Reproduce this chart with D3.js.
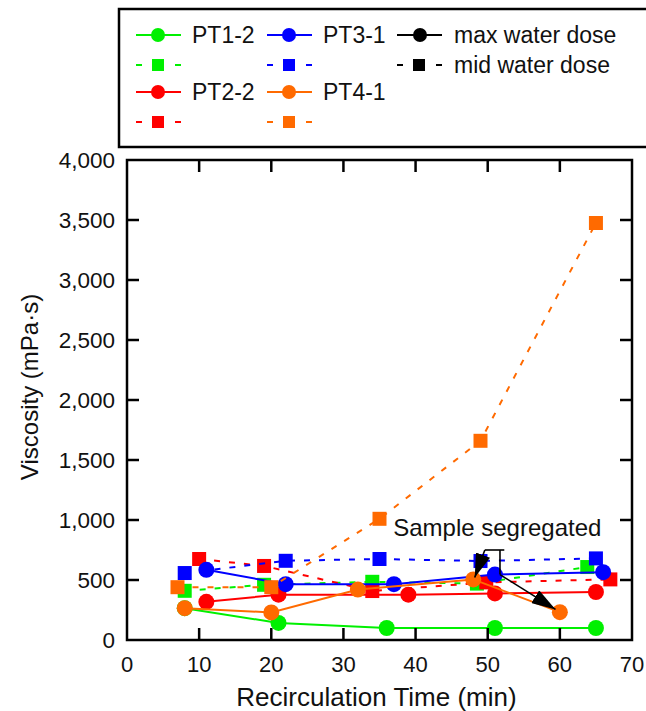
<!DOCTYPE html>
<html>
<head>
<meta charset="utf-8">
<script src="https://cdn.jsdelivr.net/npm/d3@7"></script>
<style>
  body { margin: 0; background: #fff; }
  svg text { font-family: "Liberation Sans", Arial, sans-serif; fill: #111; }
</style>
</head>
<body>
<svg id="chart" width="646" height="711"></svg>
<script>
// recirculation time (min) and viscosity (mPa·s)
const pt12MaxX = [8, 21, 36, 51, 65];
const pt12MaxY = [265, 142, 100, 100, 100];
const pt12MidX = [8, 19, 34, 48.5, 63.8];
const pt12MidY = [410, 460, 485, 470, 608];

const pt22MaxX = [11, 21, 39, 51, 65];
const pt22MaxY = [318, 378, 378, 388, 400];
const pt22MidX = [10, 19, 34, 49.8, 67];
const pt22MidY = [675, 617, 408, 480, 505];

const pt31MaxX = [11, 22, 37, 51, 66];
const pt31MaxY = [585, 465, 465, 545, 565];
const pt31MidX = [8, 22, 35, 49, 65];
const pt31MidY = [558, 660, 675, 658, 680];

const pt41MaxX = [8, 20, 32, 48, 60];
const pt41MaxY = [265, 230, 420, 505, 232];
const pt41MidX = [7, 20, 35, 49, 65];
const pt41MidY = [440, 440, 1010, 1660, 3475];

const series = [
  { name: 'PT1-2', color: '#00f000', maxX: pt12MaxX, maxY: pt12MaxY, midX: pt12MidX, midY: pt12MidY },
  { name: 'PT2-2', color: '#ff0000', maxX: pt22MaxX, maxY: pt22MaxY, midX: pt22MidX, midY: pt22MidY },
  { name: 'PT3-1', color: '#0000ff', maxX: pt31MaxX, maxY: pt31MaxY, midX: pt31MidX, midY: pt31MidY },
  { name: 'PT4-1', color: '#ff6a00', maxX: pt41MaxX, maxY: pt41MaxY, midX: pt41MidX, midY: pt41MidY }
];

const xTicks = [0, 10, 20, 30, 40, 50, 60, 70];
const yTicks = [0, 500, 1000, 1500, 2000, 2500, 3000, 3500, 4000];

const svg = d3.select('#chart');
const pLeft = 127, pRight = 632, pTop = 160, pBottom = 640;

const x = d3.scaleLinear().domain([0, 70]).range([pLeft, pRight]);
const y = d3.scaleLinear().domain([0, 4000]).range([pBottom, pTop]);

const defs = svg.append('defs');
defs.append('marker')
  .attr('id', 'head')
  .attr('viewBox', '0 0 24 15')
  .attr('refX', 24).attr('refY', 7.5)
  .attr('markerWidth', 24).attr('markerHeight', 15)
  .attr('markerUnits', 'userSpaceOnUse')
  .attr('orient', 'auto')
  .append('path').attr('d', 'M0,0 L24,7.5 L0,15 Z').attr('fill', '#000');

// data
const line = d3.line().x(d => x(d[0])).y(d => y(d[1]));
const plot = svg.append('g');
series.forEach(s => {
  const mid = s.midX.map((v, i) => [v, s.midY[i]]);
  const max = s.maxX.map((v, i) => [v, s.maxY[i]]);
  plot.append('path').datum(mid)
    .attr('d', line).attr('fill', 'none')
    .attr('stroke', s.color).attr('stroke-width', 2).attr('stroke-dasharray', '6,9');
  plot.selectAll(null).data(mid).enter().append('rect')
    .attr('x', d => x(d[0]) - 7).attr('y', d => y(d[1]) - 7)
    .attr('width', 14).attr('height', 14).attr('fill', s.color);
  plot.append('path').datum(max)
    .attr('d', line).attr('fill', 'none')
    .attr('stroke', s.color).attr('stroke-width', 2);
  plot.selectAll(null).data(max).enter().append('circle')
    .attr('cx', d => x(d[0])).attr('cy', d => y(d[1]))
    .attr('r', 8).attr('fill', s.color);
});

// frame and inward ticks
const frame = svg.append('g').attr('stroke', '#000').attr('stroke-width', 2.5);
frame.append('rect').attr('x', pLeft).attr('y', pTop)
  .attr('width', pRight - pLeft).attr('height', pBottom - pTop).attr('fill', 'none');
xTicks.slice(1, -1).forEach(t => {
  frame.append('line').attr('x1', x(t)).attr('x2', x(t)).attr('y1', pBottom).attr('y2', pBottom - 12);
  frame.append('line').attr('x1', x(t)).attr('x2', x(t)).attr('y1', pTop).attr('y2', pTop + 12);
});
yTicks.slice(1, -1).forEach(t => {
  frame.append('line').attr('x1', pLeft).attr('x2', pLeft + 12).attr('y1', y(t)).attr('y2', y(t));
  frame.append('line').attr('x1', pRight).attr('x2', pRight - 12).attr('y1', y(t)).attr('y2', y(t));
});

svg.selectAll('.xt').data(xTicks).enter().append('text')
  .attr('x', d => x(d)).attr('y', 672).attr('text-anchor', 'middle')
  .style('font-size', '22px').text(d => d);
svg.selectAll('.yt').data(yTicks).enter().append('text')
  .attr('x', 115).attr('y', d => y(d) + 7.5).attr('text-anchor', 'end')
  .style('font-size', '22.5px').text(d3.format(','));

svg.append('text').attr('x', (pLeft + pRight) / 2 - 3).attr('y', 706)
  .attr('text-anchor', 'middle').style('font-size', '26px').text('Recirculation Time (min)');
svg.append('text').attr('transform', `translate(38,${(pTop + pBottom) / 2 - 13}) rotate(-90)`)
  .attr('text-anchor', 'middle').style('font-size', '24px').text('Viscosity (mPa·s)');

// annotation
svg.append('text').attr('x', x(36.9)).attr('y', y(865))
  .style('font-size', '24px').text('Sample segregated');
const ann = svg.append('g').attr('stroke', '#000').attr('stroke-width', 1.6).attr('fill', 'none');
ann.append('line').attr('x1', x(49.6)).attr('y1', y(750)).attr('x2', x(52.3)).attr('y2', y(750));
ann.append('line').attr('x1', x(51.7)).attr('y1', y(750)).attr('x2', x(51.7)).attr('y2', y(545));
ann.append('line').attr('x1', x(49.6)).attr('y1', y(750)).attr('x2', x(48.2)).attr('y2', y(520))
  .attr('marker-end', 'url(#head)');
ann.append('line').attr('x1', x(51.7)).attr('y1', y(545)).attr('x2', x(59.4)).attr('y2', y(255))
  .attr('marker-end', 'url(#head)');

// legend
const legend = svg.append('g');
legend.append('rect').attr('x', 119).attr('y', 9).attr('width', 540).attr('height', 138)
  .attr('fill', '#fff').attr('stroke', '#000').attr('stroke-width', 2.5);

function legendEntry(lx, cy, color, label) {
  legend.append('line').attr('x1', lx).attr('x2', lx + 45).attr('y1', cy).attr('y2', cy)
    .attr('stroke', color).attr('stroke-width', 2);
  legend.append('circle').attr('cx', lx + 22).attr('cy', cy).attr('r', 7).attr('fill', color);
  legend.append('text').attr('x', lx + 56).attr('y', cy + 8).style('font-size', '23px').text(label);
  const sy = cy + 30;
  legend.append('line').attr('x1', lx).attr('x2', lx + 6).attr('y1', sy).attr('y2', sy)
    .attr('stroke', color).attr('stroke-width', 2);
  legend.append('line').attr('x1', lx + 39).attr('x2', lx + 45).attr('y1', sy).attr('y2', sy)
    .attr('stroke', color).attr('stroke-width', 2);
  legend.append('rect').attr('x', lx + 16).attr('y', sy - 6).attr('width', 12).attr('height', 12)
    .attr('fill', color);
}
legendEntry(136, 35, series[0].color, series[0].name);
legendEntry(267, 35, series[2].color, series[2].name);
legendEntry(136, 92, series[1].color, series[1].name);
legendEntry(267, 92, series[3].color, series[3].name);

legend.append('line').attr('x1', 397).attr('x2', 442).attr('y1', 35).attr('y2', 35)
  .attr('stroke', '#000').attr('stroke-width', 2);
legend.append('circle').attr('cx', 420).attr('cy', 35).attr('r', 7).attr('fill', '#000');
legend.append('text').attr('x', 454).attr('y', 43).style('font-size', '23px').text('max water dose');
legend.append('line').attr('x1', 397).attr('x2', 403).attr('y1', 65).attr('y2', 65)
  .attr('stroke', '#000').attr('stroke-width', 2);
legend.append('line').attr('x1', 436).attr('x2', 442).attr('y1', 65).attr('y2', 65)
  .attr('stroke', '#000').attr('stroke-width', 2);
legend.append('rect').attr('x', 413).attr('y', 59).attr('width', 12).attr('height', 12).attr('fill', '#000');
legend.append('text').attr('x', 454).attr('y', 73).style('font-size', '23px').text('mid water dose');
</script>
</body>
</html>
